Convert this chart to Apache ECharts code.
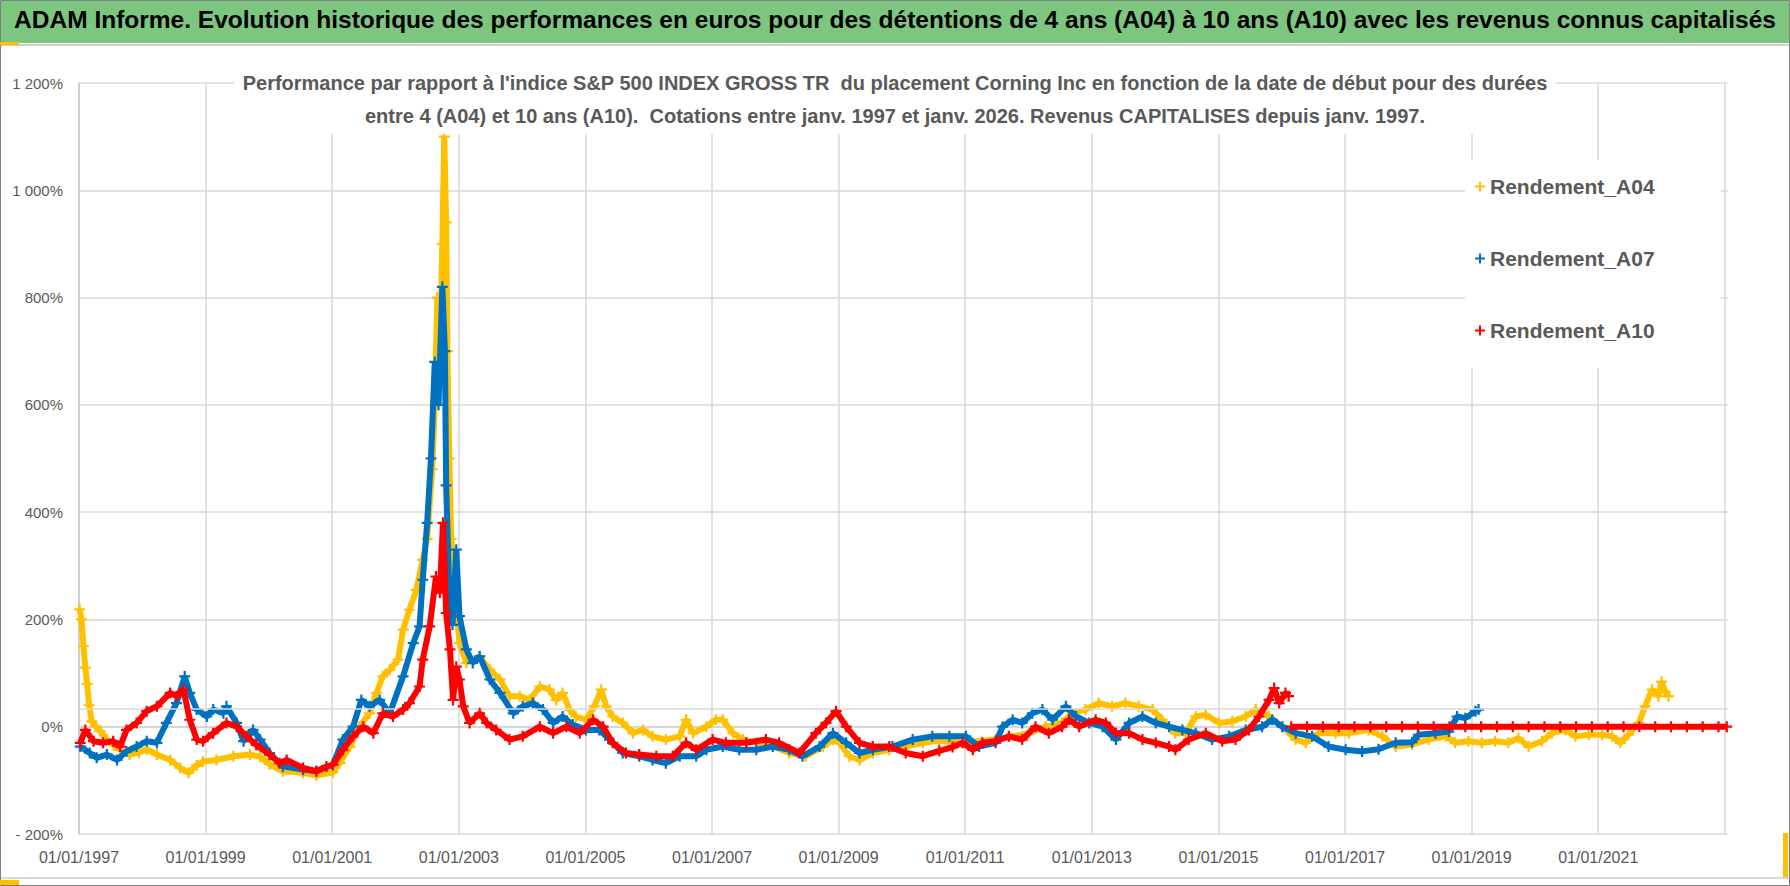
<!DOCTYPE html>
<html>
<head>
<meta charset="utf-8">
<script src="https://cdn.jsdelivr.net/npm/echarts@6/dist/echarts.min.js"></script>
<style>
html,body{margin:0;padding:0;background:#fff;}
#chart{width:1790px;height:886px;}
</style>
</head>
<body>
<div id="chart"></div>
<script>
// ---------- DATA ----------
const mainTitle = "ADAM Informe. Evolution historique des performances en euros pour des détentions de 4 ans (A04) à 10 ans (A10) avec les revenus connus capitalisés";
const subTitle = "Performance par rapport à l'indice S&P 500 INDEX GROSS TR  du placement Corning Inc en fonction de la date de début pour des durées\nentre 4 (A04) et 10 ans (A10).  Cotations entre janv. 1997 et janv. 2026. Revenus CAPITALISES depuis janv. 1997.";
const seriesNames = ["Rendement_A04", "Rendement_A07", "Rendement_A10"];
const xTickYears = [1997, 1999, 2001, 2003, 2005, 2007, 2009, 2011, 2013, 2015, 2017, 2019, 2021];
const yTicks = [-200, 0, 200, 400, 600, 800, 1000, 1200];
const extraGridValue = 33.5;

// [decimal year, performance %]
const a04 = [
[1997.01,219],[1997.04,200],[1997.07,150],[1997.10,110],[1997.13,80],[1997.16,40],[1997.20,10],[1997.27,0],[1997.33,-8],[1997.44,-24],[1997.55,-35],[1997.65,-43],[1997.80,-52],[1997.95,-48],
[1998.07,-42],[1998.23,-52],[1998.44,-62],[1998.60,-77],[1998.73,-86],[1998.86,-72],[1998.96,-65],[1999.17,-62],[1999.44,-55],[1999.70,-52],[1999.86,-56],
[2000.01,-70],[2000.22,-83],[2000.54,-86],[2000.75,-91],[2001.01,-85],[2001.12,-68],[2001.28,-37],[2001.43,0],[2001.59,25],[2001.70,63],[2001.80,94],[2001.91,106],
[2002.04,125],[2002.12,181],[2002.22,218],[2002.33,255],[2002.43,311],[2002.50,350],[2002.58,480],[2002.62,600],[2002.66,800],[2002.70,700],[2002.74,900],[2002.77,1100],[2002.80,940],[2002.82,700],[2002.85,500],[2002.88,350],[2002.92,300],[2002.96,230],
[2003.01,156],[2003.12,119],[2003.33,131],[2003.49,106],[2003.65,88],[2003.80,57],[2003.96,57],[2004.12,50],[2004.28,75],[2004.43,69],[2004.54,50],[2004.64,63],[2004.75,32],[2004.85,19],
[2005.01,13],[2005.14,38],[2005.25,69],[2005.33,38],[2005.43,19],[2005.59,7],[2005.75,-12],[2005.91,-6],[2006.06,-18],[2006.27,-24],[2006.49,-18],[2006.59,13],[2006.70,-12],[2006.91,0],
[2007.06,13],[2007.17,13],[2007.33,-12],[2007.49,-24],[2007.70,-30],[2007.96,-37],[2008.22,-49],[2008.48,-55],[2008.75,-37],[2008.91,-24],[2009.01,-30],[2009.17,-55],[2009.33,-62],[2009.54,-49],[2009.80,-43],
[2010.06,-37],[2010.33,-30],[2010.59,-26],[2010.96,-30],[2011.48,-24],[2012.01,-12],[2012.27,0],[2012.53,7],[2012.69,25],[2012.90,32],[2013.11,44],[2013.32,38],[2013.53,44],[2013.74,38],[2013.96,32],
[2014.11,13],[2014.32,-12],[2014.48,-12],[2014.64,19],[2014.80,22],[2015.01,7],[2015.22,10],[2015.43,19],[2015.59,32],[2015.80,19],[2016.01,0],[2016.22,-24],[2016.38,-30],[2016.59,-12],[2016.85,-12],
[2017.06,-12],[2017.37,-6],[2017.59,-18],[2017.80,-37],[2018.06,-33],[2018.32,-24],[2018.59,-18],[2018.74,-30],[2018.95,-27],[2019.16,-30],[2019.37,-27],[2019.58,-30],[2019.74,-21],[2019.90,-37],
[2020.11,-27],[2020.27,-12],[2020.48,-6],[2020.64,-18],[2020.85,-15],[2021.06,-15],[2021.22,-18],[2021.35,-30],[2021.48,-15],[2021.64,7],[2021.74,38],[2021.85,69],[2021.95,57],[2022.00,84],[2022.06,65],[2022.11,57]
];
const a07 = [
[1997.02,-37],[1997.17,-49],[1997.28,-58],[1997.44,-52],[1997.60,-62],[1997.75,-46],[1997.91,-37],[1998.07,-27],[1998.23,-30],[1998.38,7],[1998.54,44],[1998.67,94],[1998.75,63],[1998.86,32],
[1999.02,19],[1999.12,32],[1999.28,25],[1999.33,38],[1999.49,7],[1999.60,-27],[1999.75,-6],[1999.86,-24],[2000.01,-49],[2000.22,-74],[2000.54,-80],[2000.75,-83],[2001.01,-71],[2001.17,-24],[2001.33,0],
[2001.46,50],[2001.59,38],[2001.75,50],[2001.91,25],[2002.12,94],[2002.28,156],[2002.38,187],[2002.43,274],[2002.50,380],[2002.56,500],[2002.62,680],[2002.68,600],[2002.74,820],[2002.78,700],[2002.80,450],[2002.85,250],[2002.90,190],[2002.96,330],
[2003.01,206],[2003.12,144],[2003.22,119],[2003.33,131],[2003.49,88],[2003.65,63],[2003.86,25],[2004.01,38],[2004.17,44],[2004.33,32],[2004.49,7],[2004.64,19],[2004.80,4],
[2005.01,-6],[2005.22,-6],[2005.38,-24],[2005.59,-49],[2005.85,-55],[2006.06,-62],[2006.27,-68],[2006.49,-55],[2006.75,-55],[2006.91,-43],[2007.17,-37],[2007.43,-43],[2007.70,-43],[2007.96,-37],
[2008.22,-43],[2008.43,-55],[2008.70,-37],[2008.91,-12],[2009.12,-30],[2009.33,-49],[2009.54,-43],[2009.85,-37],[2010.17,-24],[2010.48,-18],[2010.75,-18],[2011.01,-18],[2011.22,-37],[2011.48,-30],
[2011.59,0],[2011.75,13],[2011.90,7],[2012.06,25],[2012.22,32],[2012.38,13],[2012.59,38],[2012.75,19],[2012.96,7],[2013.17,0],[2013.38,-24],[2013.59,7],[2013.80,19],[2014.01,7],[2014.22,0],
[2014.43,-6],[2014.64,-12],[2014.90,-24],[2015.17,-18],[2015.43,-6],[2015.69,0],[2015.85,13],[2016.01,0],[2016.22,-12],[2016.48,-18],[2016.74,-37],[2017.01,-43],[2017.27,-46],[2017.53,-42],
[2017.80,-30],[2018.06,-29],[2018.16,-15],[2018.43,-12],[2018.64,-9],[2018.77,19],[2018.90,16],[2019.06,29],[2019.11,32]
];
const a10 = [
[1997.02,-30],[1997.10,-6],[1997.23,-27],[1997.38,-30],[1997.54,-27],[1997.65,-37],[1997.75,-6],[1997.91,7],[1998.07,29],[1998.23,38],[1998.44,63],[1998.54,57],[1998.65,69],[1998.75,13],
[1998.86,-24],[1998.96,-27],[1999.12,-12],[1999.33,7],[1999.49,0],[1999.65,-18],[1999.80,-34],[2000.01,-52],[2000.17,-68],[2000.28,-62],[2000.54,-77],[2000.75,-83],[2000.91,-74],[2001.01,-71],
[2001.17,-43],[2001.33,-18],[2001.49,0],[2001.65,-12],[2001.80,25],[2001.96,19],[2002.12,32],[2002.22,44],[2002.38,75],[2002.43,125],[2002.54,187],[2002.64,280],[2002.70,250],[2002.75,380],[2002.80,212],
[2002.86,144],[2002.91,50],[2002.96,112],[2003.01,88],[2003.07,38],[2003.17,7],[2003.33,25],[2003.44,7],[2003.59,-6],[2003.80,-24],[2004.01,-18],[2004.28,0],[2004.49,-12],[2004.70,0],[2004.91,-12],
[2005.12,13],[2005.28,0],[2005.43,-30],[2005.64,-49],[2005.85,-52],[2006.12,-55],[2006.38,-55],[2006.59,-30],[2006.75,-43],[2007.01,-24],[2007.22,-30],[2007.54,-30],[2007.85,-24],[2008.06,-30],
[2008.38,-49],[2008.64,-12],[2008.80,7],[2008.96,29],[2009.12,0],[2009.33,-30],[2009.54,-37],[2009.80,-37],[2010.06,-49],[2010.33,-55],[2010.59,-45],[2010.80,-38],[2010.96,-30],[2011.12,-43],
[2011.27,-30],[2011.48,-27],[2011.69,-18],[2011.90,-24],[2012.11,0],[2012.32,-12],[2012.53,0],[2012.64,13],[2012.80,0],[2013.06,13],[2013.22,7],[2013.38,-12],[2013.59,-12],[2013.80,-24],
[2014.01,-30],[2014.22,-37],[2014.32,-43],[2014.53,-24],[2014.80,-12],[2015.06,-27],[2015.27,-24],[2015.48,-6],[2015.64,19],[2015.80,50],[2015.88,72],[2015.96,44],[2016.06,63],[2016.11,57],
[2016.12,'-'],
[2016.15,0],[2016.40,0],[2016.65,0],[2016.90,0],[2017.15,0],[2017.40,0],[2017.65,0],[2017.90,0],[2018.15,0],[2018.40,0],[2018.65,0],[2018.90,0],[2019.15,0],[2019.40,0],
[2019.65,0],[2019.90,0],[2020.15,0],[2020.40,0],[2020.65,0],[2020.90,0],[2021.15,0],[2021.40,0],[2021.65,0],[2021.90,0],[2022.15,0],[2022.40,0],[2022.65,0],[2022.90,0],[2023.03,0]
];

// ---------- STYLE ----------
const colors = ['#FFC000', '#0070C0', '#FF0000'];
const plusPath = 'path://M4,0 L6,0 L6,4 L10,4 L10,6 L6,6 L6,10 L4,10 L4,6 L0,6 L0,4 L4,4 Z';
const fontFam = "'Liberation Sans', Arial, sans-serif";
const gridColor = '#d9d9d9';

function fmtY(v) {
  const a = Math.abs(v);
  let s = a >= 1000 ? Math.floor(a / 1000) + ' ' + String(a % 1000).padStart(3, '0') : String(a);
  return (v < 0 ? '- ' : '') + s + '%';
}

const chart = echarts.init(document.getElementById('chart'), null, {renderer: 'svg'});

const datasets = [a04, a07, a10];
const series = datasets.map((d, i) => ({
  name: seriesNames[i],
  type: 'line',
  data: d,
  symbol: plusPath,
  symbolSize: 11,
  showSymbol: true,
  showAllSymbol: true,
  connectNulls: false,
  lineStyle: {color: colors[i], width: 6},
  itemStyle: {color: colors[i]},
  z: 3 + i,
  silent: true
}));
series.unshift({
  name: 'grid-extra',
  type: 'line',
  data: [],
  z: 1,
  silent: true,
  markLine: {
    silent: true,
    symbol: 'none',
    label: {show: false},
    lineStyle: {color: gridColor, type: 'solid', width: 1.5},
    data: [{yAxis: extraGridValue}]
  }
});

const ySplitColors = yTicks.map(v => v === 0 ? 'rgba(0,0,0,0)' : gridColor);

chart.setOption({
  animation: false,
  backgroundColor: '#fff',
  graphic: [
    {type: 'rect', z: -10, shape: {x: 0.5, y: 0.5, width: 1789, height: 885}, style: {fill: '#fff', stroke: '#7f7f7f', lineWidth: 1}},
    {type: 'rect', z: -9, shape: {x: 1, y: 1, width: 1788, height: 42}, style: {fill: '#7DC67F'}},
    {type: 'rect', z: -9, shape: {x: 1, y: 44, width: 1788, height: 2}, style: {fill: '#d0d0d0'}},
    {type: 'rect', z: -9, shape: {x: 1, y: 877, width: 1788, height: 2}, style: {fill: '#d9d9d9'}},
    {type: 'rect', z: 20, shape: {x: 0, y: 42, width: 19, height: 3}, style: {fill: '#FFC000'}},
    {type: 'rect', z: 20, shape: {x: 0, y: 880, width: 19, height: 5}, style: {fill: '#FFC000'}},
    {type: 'rect', z: 20, shape: {x: 1783, y: 833, width: 5, height: 44}, style: {fill: '#FFC000'}},
    {type: 'text', z: 20, left: 'center', top: 7,
     style: {text: mainTitle, fill: '#000', font: "bold 24.5px " + fontFam}}
  ],
  title: {
    text: subTitle,
    left: 'center',
    top: 64,
    padding: [2, 8, 2, 8],
    backgroundColor: '#fff',
    z: 10,
    textStyle: {fontSize: 20, fontWeight: 'bold', color: '#595959', fontFamily: fontFam, lineHeight: 33}
  },
  legend: {
    data: seriesNames,
    orient: 'vertical',
    left: 1465,
    top: 160,
    itemGap: 51,
    itemWidth: 10,
    itemHeight: 10,
    icon: plusPath,
    backgroundColor: '#fff',
    padding: [16, 66, 27, 10],
    z: 10,
    selectedMode: false,
    textStyle: {fontSize: 21, fontWeight: 'bold', color: '#595959', fontFamily: fontFam, lineHeight: 20}
  },
  grid: {left: 79, right: 62, top: 83, bottom: 52, containLabel: false},
  xAxis: {
    type: 'value',
    min: 1997,
    max: 2023.05,
    interval: 2,
    axisLine: {show: true, lineStyle: {color: '#c8c8c8', width: 1.5}},
    axisTick: {show: false},
    splitLine: {show: true, showMaxLine: false, lineStyle: {color: gridColor, width: 1.5}},
    axisLabel: {
      color: '#595959', fontSize: 16, fontFamily: fontFam, margin: 15,
      showMaxLabel: false,
      formatter: v => xTickYears.indexOf(v) >= 0 ? '01/01/' + v : ''
    }
  },
  yAxis: {
    type: 'value',
    min: -200,
    max: 1200,
    interval: 200,
    axisLine: {show: true, lineStyle: {color: '#c8c8c8', width: 1.5}},
    axisTick: {show: false},
    splitLine: {show: true, lineStyle: {color: ySplitColors, width: 1.5}},
    axisLabel: {color: '#595959', fontSize: 15, fontFamily: fontFam, margin: 16, formatter: fmtY}
  },
  series: series
});
</script>
</body>
</html>
